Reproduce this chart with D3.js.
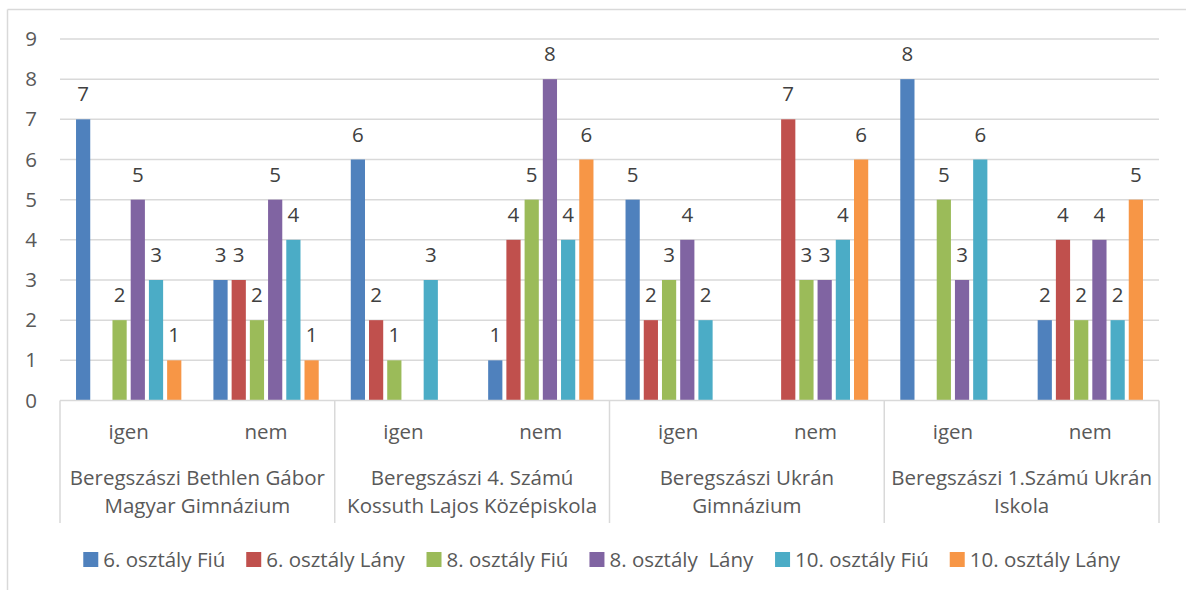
<!DOCTYPE html>
<html>
<head>
<meta charset="utf-8">
<script src="https://cdn.jsdelivr.net/npm/d3@7"></script>
<style>
  body { margin: 0; background: #fff; }
  svg text { font-family: "Open Sans", sans-serif; fill: #595959; }
</style>
</head>
<body>
<svg id="chart" width="1186" height="590"></svg>
<script>
const schools = [
  ["Beregszászi Bethlen Gábor", "Magyar Gimnázium"],
  ["Beregszászi 4. Számú", "Kossuth Lajos Középiskola"],
  ["Beregszászi Ukrán", "Gimnázium"],
  ["Beregszászi 1.Számú Ukrán", "Iskola"]
];
const answers = ["igen", "nem"];
const seriesNames = ["6. osztály Fiú", "6. osztály Lány", "8. osztály Fiú", "8. osztály  Lány", "10. osztály Fiú", "10. osztály Lány"];
const seriesColors = ["#4F81BD", "#C0504D", "#9BBB59", "#8064A2", "#4BACC6", "#F79646"];
// values per series, in order: school1 igen, school1 nem, school2 igen, school2 nem, ...
const fiu6  = [7, 3, 6, 1, 5, null, 8, 2];
const lany6 = [null, 3, 2, 4, 2, 7, null, 4];
const fiu8  = [2, 2, 1, 5, 3, 3, 5, 2];
const lany8 = [5, 5, null, 8, 4, 3, 3, 4];
const fiu10 = [3, 4, 3, 4, 2, 4, 6, 2];
const lany10 = [1, 1, null, 6, null, 6, null, 5];
const yTicks = [0, 1, 2, 3, 4, 5, 6, 7, 8, 9];

const seriesValues = [fiu6, lany6, fiu8, lany8, fiu10, lany10];
const cats = [];
schools.forEach((s, si) => answers.forEach(a => cats.push({ key: si + "-" + a, school: si, answer: a })));

const FS = 20.5;
const svg = d3.select("#chart");
const pLeft = 60, pRight = 1159, pTop = 39, pBottom = 400.5;

// outer border (top and left visible)
svg.append("line").attr("x1", 7.5).attr("x2", 1186).attr("y1", 9.5).attr("y2", 9.5).attr("stroke", "#d9d9d9").attr("stroke-width", 1.5);
svg.append("line").attr("x1", 7.5).attr("x2", 7.5).attr("y1", 9.5).attr("y2", 590).attr("stroke", "#d9d9d9").attr("stroke-width", 1.5);

const y = d3.scaleLinear().domain([0, 9]).range([pBottom, pTop]);
const x0 = d3.scaleBand().domain(cats.map(c => c.key)).range([pLeft, pRight]).padding(0);
const x1 = d3.scaleBand().domain(d3.range(seriesNames.length)).range([0, x0.bandwidth()]).paddingInner(0.22).paddingOuter(0.88);
const xs = d3.scaleBand().domain(d3.range(schools.length)).range([pLeft, pRight]).padding(0);

// gridlines
svg.append("g").selectAll("line").data(yTicks.filter(t => t > 0)).join("line")
  .attr("x1", pLeft).attr("x2", pRight)
  .attr("y1", d => y(d)).attr("y2", d => y(d))
  .attr("stroke", "#d9d9d9").attr("stroke-width", 1.5);

// y axis labels
const yAxis = d3.axisLeft(y).tickValues(yTicks).tickSize(0).tickPadding(0).tickFormat(d3.format("d"));
const gy = svg.append("g").attr("transform", "translate(31,0)").call(yAxis);
gy.select(".domain").remove();
gy.selectAll("text").attr("font-size", FS).attr("text-anchor", "middle").style("fill", "#595959").attr("font-family", "Open Sans");

// bars
const barData = [];
seriesValues.forEach((vals, si) => vals.forEach((v, ci) => {
  if (v !== null) barData.push({ s: si, c: cats[ci].key, v });
}));
svg.append("g").selectAll("rect").data(barData).join("rect")
  .attr("x", d => x0(d.c) + x1(d.s))
  .attr("width", x1.bandwidth())
  .attr("y", d => y(d.v))
  .attr("height", d => y(0) - y(d.v))
  .attr("fill", d => seriesColors[d.s]);

// data labels
svg.append("g").selectAll("text").data(barData).join("text")
  .attr("x", d => x0(d.c) + x1(d.s) + x1.bandwidth() / 2)
  .attr("y", d => y(d.v) - 18)
  .attr("text-anchor", "middle")
  .attr("font-size", FS)
  .style("fill", "#404040")
  .text(d => d.v);

// x axis line
svg.append("line").attr("x1", pLeft).attr("x2", pRight).attr("y1", pBottom).attr("y2", pBottom)
  .attr("stroke", "#d9d9d9").attr("stroke-width", 1.5);
// school separators
svg.append("g").selectAll("line").data(d3.range(schools.length + 1)).join("line")
  .attr("x1", d => d < schools.length ? xs(d) : pRight)
  .attr("x2", d => d < schools.length ? xs(d) : pRight)
  .attr("y1", pBottom).attr("y2", 523)
  .attr("stroke", "#d9d9d9").attr("stroke-width", 1.5);

// answer labels
svg.append("g").selectAll("text").data(cats).join("text")
  .attr("x", d => x0(d.key) + x0.bandwidth() / 2)
  .attr("y", 439)
  .attr("text-anchor", "middle")
  .attr("font-size", FS)
  .text(d => d.answer);

// school labels
const sg = svg.append("g").selectAll("text").data(schools).join("text")
  .attr("text-anchor", "middle")
  .attr("font-size", FS);
sg.selectAll("tspan").data((d, i) => d.map(line => ({ line, i }))).join("tspan")
  .attr("x", d => xs(d.i) + xs.bandwidth() / 2)
  .attr("y", (d, j) => 485 + j * 28)
  .text(d => d.line);

// legend
const legend = svg.append("g");
let lx = 0;
const items = legend.selectAll("g").data(seriesNames).join("g");
items.append("rect").attr("width", 15).attr("height", 15).attr("y", -7.5).attr("fill", (d, i) => seriesColors[i]);
items.append("text").attr("x", 20).attr("y", 7.5).attr("font-size", FS).style("white-space", "pre").attr("xml:space", "preserve").text(d => d);
items.each(function () {
  const w = this.getBBox().width;
  d3.select(this).attr("transform", `translate(${lx},559.5)`);
  lx += w + 21;
});
const totalW = lx - 21;
legend.attr("transform", `translate(${602 - totalW / 2},0)`);
</script>
</body>
</html>
